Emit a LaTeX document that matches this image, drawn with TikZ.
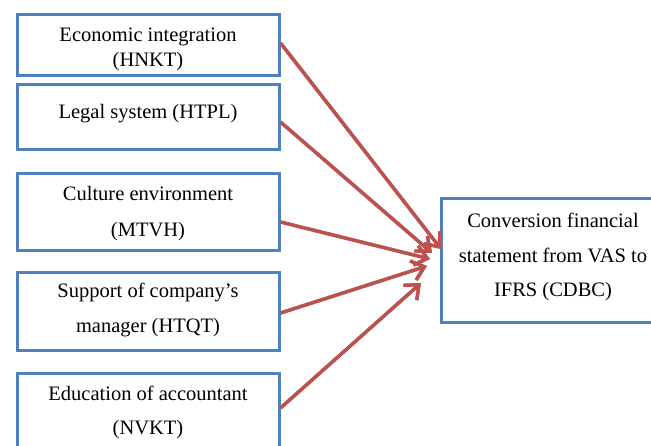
\documentclass[tikz,border=0pt]{standalone}
\usepackage{fontspec}
\setmainfont{Liberation Serif}
\usetikzlibrary{arrows.meta,calc}
\definecolor{boxblue}{HTML}{4F81BD}
\definecolor{arrred}{HTML}{C0504D}
\tikzset{
  leftbox/.style={draw=boxblue, line width=3pt, fill=white, minimum width=262pt, inner sep=0pt},
  rightbox/.style={draw=boxblue, line width=3pt, fill=white, minimum width=224pt, minimum height=124pt, inner sep=0pt},
  txt/.style={anchor=base, inner sep=0pt, font=\fontsize{20.5}{24}\selectfont},
  conn/.style={draw=arrred, line width=3.4pt, -{Straight Barb[length=12pt,width=20pt,line width=3.4pt]}},
  connshadow/.style={draw=black!45, line width=3.4pt, xshift=1.2pt, yshift=-1.8pt, -{Straight Barb[length=12pt,width=20pt,line width=3.4pt]}}
}
\begin{document}
\begin{tikzpicture}[x=1pt,y=-1pt]
\useasboundingbox (0,0) rectangle (651,446);
% left boxes
\node[leftbox, minimum height=61pt] (b1) at (148,45.5) {};
\node[leftbox, minimum height=65pt] (b2) at (148,117.5) {};
\node[leftbox, minimum height=77pt] (b3) at (148,212.5) {};
\node[leftbox, minimum height=78pt] (b4) at (148,312) {};
\node[leftbox, minimum height=100pt] (b5) at (148,424) {};
\node[rightbox] (r) at (553,261) {};
% texts
\node[txt] (t1a) at (148,42) {Economic integration};
\node[txt] (t1b) at (148,67) {(HNKT)};
\node[txt] (t2a) at (148,119) {Legal system (HTPL)};
\node[txt] (t3a) at (148,200.5) {Culture environment};
\node[txt] (t3b) at (148,236.5) {(MTVH)};
\node[txt] (t4a) at (148,298) {Support of company’s};
\node[txt] (t4b) at (148,333) {manager (HTQT)};
\node[txt] (t5a) at (148,400) {Education of accountant};
\node[txt] (t5b) at (148,435) {(NVKT)};
\node[txt] (ra) at (553,228) {Conversion financial};
\node[txt] (rb) at (553,263) {statement from VAS to};
\node[txt] (rc) at (553,297) {IFRS (CDBC)};
% arrow start and end points
\coordinate (s1) at ($(b1.east)+(0,-2.5)$);
\coordinate (s2) at ($(b2.east)+(0,4.5)$);
\coordinate (s3) at ($(b3.east)+(0,9.5)$);
\coordinate (s4) at ($(b4.east)+(0,1)$);
\coordinate (s5) at ($(b5.east)+(0,-16)$);
\coordinate (e1) at (441,249);
\coordinate (e2) at (432,253);
\coordinate (e3) at (430,259);
\coordinate (e4) at (427,266);
\coordinate (e5) at (421,283);
\foreach \i in {1,...,5} {
  \draw[connshadow] (s\i) -- (e\i);
}
\foreach \i in {1,...,5} {
  \draw[conn] (s\i) -- (e\i);
}
\end{tikzpicture}
\end{document}
